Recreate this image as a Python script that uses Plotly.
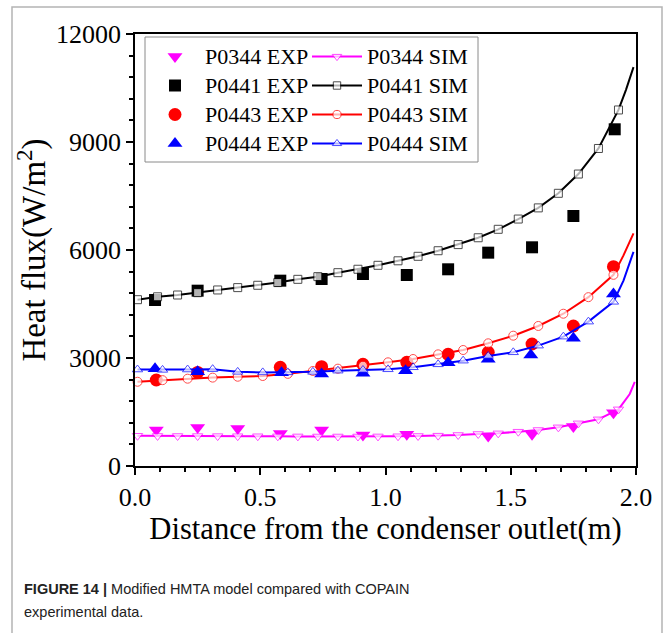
import plotly.graph_objects as go

# ---------------- data ----------------
# Experimental points
p0344_exp_x = [0.085, 0.25, 0.41, 0.58, 0.745, 0.91, 1.085, 1.41, 1.585, 1.75, 1.91]
p0344_exp_y = [1000, 1070, 1040, 900, 1000, 860, 880, 830, 880, 1100, 1480]

p0441_exp_x = [0.08, 0.25, 0.58, 0.745, 0.91, 1.085, 1.25, 1.41, 1.585, 1.75, 1.915]
p0441_exp_y = [4611, 4870, 5148, 5195, 5333, 5306, 5464, 5926, 6075, 6945, 9353]

p0443_exp_x = [0.085, 0.25, 0.58, 0.745, 0.91, 1.085, 1.25, 1.41, 1.585, 1.75, 1.91]
p0443_exp_y = [2389, 2600, 2740, 2759, 2824, 2880, 3102, 3158, 3389, 3889, 5537]

p0444_exp_x = [0.08, 0.25, 0.585, 0.745, 0.91, 1.08, 1.25, 1.41, 1.58, 1.75, 1.91]
p0444_exp_y = [2700, 2620, 2590, 2556, 2575, 2648, 2870, 2963, 3083, 3547, 4780]

# Simulation curves (symbol points, then the end of the curve)
p0344_sim_x = [0.01, 0.09, 0.17, 0.25, 0.33, 0.41, 0.49, 0.57, 0.65, 0.73, 0.81, 0.89, 0.97,
               1.05, 1.13, 1.21, 1.29, 1.37, 1.45, 1.53, 1.61, 1.69, 1.77, 1.85, 1.93, 1.975, 1.995]
p0344_sim_y = [840, 835, 833, 832, 830, 828, 826, 824, 822, 820, 820, 820, 822,
               826, 833, 843, 861, 889, 907, 953, 1000, 1074, 1185, 1296, 1574, 2000, 2340]
p0344_sim_nsym = 25

p0441_sim_x = [0.01, 0.09, 0.17, 0.25, 0.33, 0.41, 0.49, 0.57, 0.65, 0.73, 0.81, 0.89, 0.97,
               1.05, 1.13, 1.21, 1.29, 1.37, 1.45, 1.53, 1.61, 1.69, 1.77, 1.85, 1.93, 1.96, 1.99]
p0441_sim_y = [4620, 4700, 4750, 4815, 4890, 4955, 5020, 5095, 5185, 5260, 5370, 5465, 5575,
               5700, 5825, 5980, 6150, 6340, 6575, 6860, 7170, 7575, 8110, 8820, 9890, 10450, 11080]
p0441_sim_nsym = 25

p0443_sim_x = [0.01, 0.11, 0.21, 0.31, 0.41, 0.51, 0.61, 0.71, 0.81, 0.91, 1.01,
               1.11, 1.21, 1.31, 1.41, 1.51, 1.61, 1.71, 1.81, 1.91, 1.95, 1.99]
p0443_sim_y = [2340, 2385, 2425, 2455, 2480, 2500, 2560, 2640, 2704, 2787, 2880,
               2972, 3102, 3222, 3408, 3620, 3890, 4230, 4690, 5310, 5850, 6460]
p0443_sim_nsym = 20

p0444_sim_x = [0.01, 0.11, 0.21, 0.31, 0.41, 0.51, 0.61, 0.71, 0.81, 0.91, 1.01,
               1.11, 1.21, 1.31, 1.41, 1.51, 1.61, 1.71, 1.81, 1.91, 1.95, 1.99]
p0444_sim_y = [2680, 2670, 2680, 2690, 2615, 2600, 2600, 2615, 2648, 2667, 2686,
               2742, 2824, 2926, 3056, 3158, 3343, 3593, 4010, 4560, 5150, 5950]
p0444_sim_nsym = 20

x_tick_vals = [0.0, 0.5, 1.0, 1.5, 2.0]
x_tick_text = ["0.0", "0.5", "1.0", "1.5", "2.0"]
y_tick_vals = [0, 3000, 6000, 9000, 12000]
y_tick_text = ["0", "3000", "6000", "9000", "12000"]

# ---------------- figure ----------------
W, H = 666, 633
ML, MR, MT, MB = 135, 30, 34, 167
PW, PH = W - ML - MR, H - MT - MB


def px_x(p):
    return (p - ML) / PW


def px_y(p):
    return (H - MB - p) / PH


SERIF = "Liberation Serif, Times New Roman, serif"


def lab(t):
    return '<span style="font-size:22px">' + t + '</span>'


fig = go.Figure()

series = [
    ("P0344", "#ff00ff", "triangle-down", p0344_exp_x, p0344_exp_y, p0344_sim_x, p0344_sim_y, p0344_sim_nsym),
    ("P0441", "#000000", "square", p0441_exp_x, p0441_exp_y, p0441_sim_x, p0441_sim_y, p0441_sim_nsym),
    ("P0443", "#ff0000", "circle", p0443_exp_x, p0443_exp_y, p0443_sim_x, p0443_sim_y, p0443_sim_nsym),
    ("P0444", "#0000ff", "triangle-up", p0444_exp_x, p0444_exp_y, p0444_sim_x, p0444_sim_y, p0444_sim_nsym),
]

for name, col, sym, ex, ey, sx, sy, nsym in series:
    exp_size = 12 if sym == "square" else 13
    fig.add_trace(go.Scatter(
        x=ex, y=ey, mode="markers", name=lab(name + " EXP"),
        marker=dict(symbol=sym, size=exp_size, color=col, line=dict(width=0)),
        legend="legend", cliponaxis=False,
    ))
    sim_size = 8 if sym == "square" else 9
    sizes = [sim_size] * nsym + [0] * (len(sx) - nsym)
    fig.add_trace(go.Scatter(
        x=sx, y=sy, mode="lines+markers", name=lab(name + " SIM"),
        line=dict(color=col, width=2),
        marker=dict(symbol=sym, size=sizes, color="white", line=dict(color=col, width=1)),
        legend="legend2", cliponaxis=False,
    ))

axis_common = dict(
    showline=True, linecolor="black", linewidth=1.5, mirror=True,
    ticks="outside", ticklen=7, tickwidth=1.5, tickcolor="black",
    showgrid=False, zeroline=False,
    tickfont=dict(family=SERIF, size=26, color="black"),
)

fig.update_xaxes(
    range=[0, 2.0], tickvals=x_tick_vals, ticktext=x_tick_text,
    minor=dict(dtick=0.1, tick0=0, ticks="outside", ticklen=4, tickwidth=1.5, tickcolor="black", showgrid=False),
    title=dict(text="Distance from the condenser outlet(m)", font=dict(family=SERIF, size=30.6, color="black"), standoff=1),
    **axis_common,
)
fig.update_yaxes(
    range=[0, 12000], tickvals=y_tick_vals, ticktext=y_tick_text,
    minor=dict(dtick=600, tick0=0, ticks="outside", ticklen=4, tickwidth=1.5, tickcolor="black", showgrid=False),
    title=dict(text="Heat flux(W/m<sup>2</sup>)", font=dict(family=SERIF, size=33, color="black"), standoff=0),
    **axis_common,
)

legend_common = dict(
    xanchor="left", yanchor="top", y=px_y(37),
    bgcolor="rgba(0,0,0,0)", borderwidth=0,
    font=dict(family=SERIF, size=20, color="black"),
    itemwidth=50, tracegroupgap=0, orientation="v",
)

fig.update_layout(
    width=W, height=H,
    margin=dict(l=ML, r=MR, t=MT, b=MB),
    paper_bgcolor="white", plot_bgcolor="white",
    legend=dict(x=px_x(145), **legend_common),
    legend2=dict(x=px_x(307), **legend_common),
    shapes=[
        dict(type="rect", xref="paper", yref="paper",
             x0=px_x(145), x1=px_x(478), y0=px_y(162), y1=px_y(37),
             line=dict(color="#8a8a8a", width=1), fillcolor="rgba(0,0,0,0)"),
        dict(type="rect", xref="paper", yref="paper",
             x0=px_x(12), x1=px_x(662), y0=px_y(660), y1=px_y(7),
             line=dict(color="#b4b4b4", width=1.5), fillcolor="rgba(0,0,0,0)"),
    ],
    annotations=[
        dict(xref="paper", yref="paper", x=px_x(22), y=px_y(589), xanchor="left", yanchor="middle",
             showarrow=False, align="left",
             text="<b>FIGURE 14 |</b> Modified HMTA model compared with COPAIN",
             font=dict(family="Liberation Sans, Arial, sans-serif", size=14.5, color="#222222")),
        dict(xref="paper", yref="paper", x=px_x(22), y=px_y(612), xanchor="left", yanchor="middle",
             showarrow=False, align="left",
             text="experimental data.",
             font=dict(family="Liberation Sans, Arial, sans-serif", size=14.5, color="#222222")),
    ],
)

fig.write_html("out.html")
